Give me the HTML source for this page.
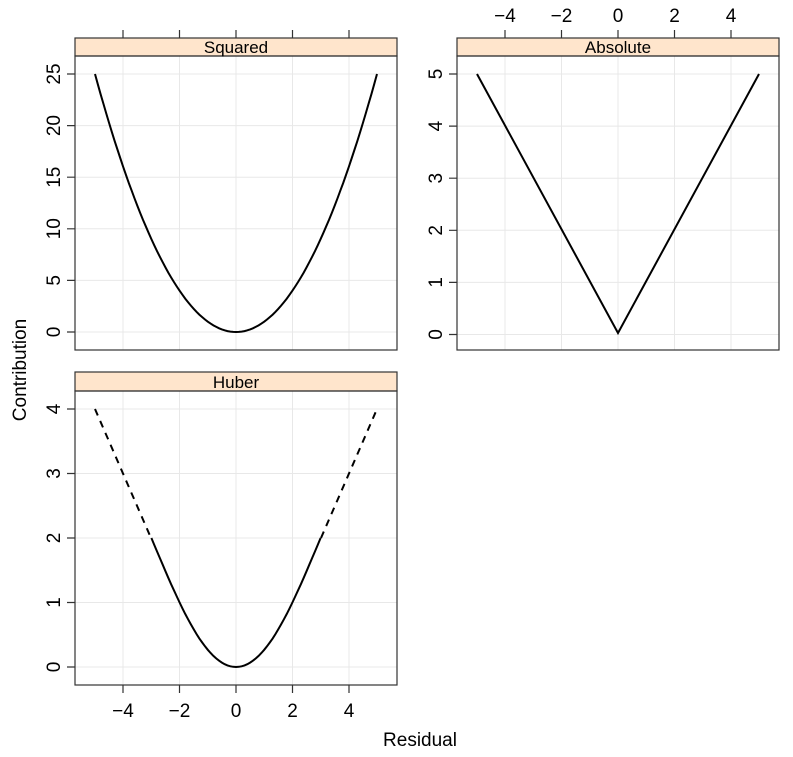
<!DOCTYPE html>
<html><head><style>html,body{margin:0;padding:0;background:#fff}</style></head>
<body>
<svg width="793" height="752" xmlns="http://www.w3.org/2000/svg" font-family="Liberation Sans, Arial, sans-serif" font-size="19" fill="#000">
<g stroke="#e8e8e8" stroke-width="1">
<line x1="123" y1="56" x2="123" y2="350"/><line x1="179.5" y1="56" x2="179.5" y2="350"/><line x1="236" y1="56" x2="236" y2="350"/><line x1="292.5" y1="56" x2="292.5" y2="350"/><line x1="349" y1="56" x2="349" y2="350"/>
<line x1="75" y1="74" x2="397" y2="74"/><line x1="75" y1="125.6" x2="397" y2="125.6"/><line x1="75" y1="177.2" x2="397" y2="177.2"/><line x1="75" y1="228.8" x2="397" y2="228.8"/><line x1="75" y1="280.4" x2="397" y2="280.4"/><line x1="75" y1="332" x2="397" y2="332"/>
<line x1="505" y1="56" x2="505" y2="350"/><line x1="561.5" y1="56" x2="561.5" y2="350"/><line x1="618" y1="56" x2="618" y2="350"/><line x1="674.5" y1="56" x2="674.5" y2="350"/><line x1="731" y1="56" x2="731" y2="350"/>
<line x1="457" y1="74" x2="779" y2="74"/><line x1="457" y1="126.1" x2="779" y2="126.1"/><line x1="457" y1="178.2" x2="779" y2="178.2"/><line x1="457" y1="230.3" x2="779" y2="230.3"/><line x1="457" y1="282.4" x2="779" y2="282.4"/><line x1="457" y1="334.5" x2="779" y2="334.5"/>
<line x1="123" y1="391" x2="123" y2="685"/><line x1="179.5" y1="391" x2="179.5" y2="685"/><line x1="236" y1="391" x2="236" y2="685"/><line x1="292.5" y1="391" x2="292.5" y2="685"/><line x1="349" y1="391" x2="349" y2="685"/>
<line x1="75" y1="409" x2="397" y2="409"/><line x1="75" y1="473.5" x2="397" y2="473.5"/><line x1="75" y1="538" x2="397" y2="538"/><line x1="75" y1="602.5" x2="397" y2="602.5"/><line x1="75" y1="667" x2="397" y2="667"/>
</g>
<g stroke="#333" stroke-width="1.2" fill="#ffe5cc">
<rect x="75" y="38" width="322" height="18"/><rect x="457" y="38" width="322" height="18"/><rect x="75" y="372" width="322" height="19"/>
</g>
<g fill="none" stroke="#333" stroke-width="1.2">
<rect x="75" y="56" width="322" height="294"/><rect x="457" y="56" width="322" height="294"/><rect x="75" y="391" width="322" height="294"/>
<path d="M123 38v-8M179.5 38v-8M236 38v-8M292.5 38v-8M349 38v-8"/>
<path d="M505 38v-8M561.5 38v-8M618 38v-8M674.5 38v-8M731 38v-8"/>
<path d="M123 685v8M179.5 685v8M236 685v8M292.5 685v8M349 685v8"/>
<path d="M75 74h-8M75 125.6h-8M75 177.2h-8M75 228.8h-8M75 280.4h-8M75 332h-8"/>
<path d="M457 74h-8M457 126.1h-8M457 178.2h-8M457 230.3h-8M457 282.4h-8M457 334.5h-8"/>
<path d="M75 409h-8M75 473.5h-8M75 538h-8M75 602.5h-8M75 667h-8"/>
</g>
<g text-anchor="middle" font-size="17">
<text x="236" y="53">Squared</text><text x="618" y="53">Absolute</text><text x="236" y="388">Huber</text>
</g>
<g text-anchor="middle">
<text x="505" y="22">−4</text><text x="561.5" y="22">−2</text><text x="618" y="22">0</text><text x="674.5" y="22">2</text><text x="731" y="22">4</text>
<text x="123" y="717">−4</text><text x="179.5" y="717">−2</text><text x="236" y="717">0</text><text x="292.5" y="717">2</text><text x="349" y="717">4</text>
<text x="420" y="746">Residual</text>
</g>
<g text-anchor="middle">
<text transform="translate(60,74) rotate(-90)">25</text><text transform="translate(60,125.6) rotate(-90)">20</text><text transform="translate(60,177.2) rotate(-90)">15</text><text transform="translate(60,228.8) rotate(-90)">10</text><text transform="translate(60,280.4) rotate(-90)">5</text><text transform="translate(60,332) rotate(-90)">0</text>
<text transform="translate(442,74) rotate(-90)">5</text><text transform="translate(442,126.1) rotate(-90)">4</text><text transform="translate(442,178.2) rotate(-90)">3</text><text transform="translate(442,230.3) rotate(-90)">2</text><text transform="translate(442,282.4) rotate(-90)">1</text><text transform="translate(442,334.5) rotate(-90)">0</text>
<text transform="translate(60,409) rotate(-90)">4</text><text transform="translate(60,473.5) rotate(-90)">3</text><text transform="translate(60,538) rotate(-90)">2</text><text transform="translate(60,602.5) rotate(-90)">1</text><text transform="translate(60,667) rotate(-90)">0</text>
<text transform="translate(26,370) rotate(-90)">Contribution</text>
</g>
<g fill="none" stroke="#000" stroke-width="2">
<path id="sq" d=""/>
<path d="M477 74L618 333L759 74"/>
<path id="hu" d=""/>
<path d="M95 409L151 538M321 538L377 409" stroke-dasharray="7,6"/>
</g>
<script>
var s="",h="";
for(var i=0;i<=100;i++){var x=-5+i*0.1;var px=236+x*28.2;s+=(i?"L":"M")+px.toFixed(1)+" "+(332-x*x*10.32).toFixed(1);}
document.getElementById("sq").setAttribute("d",s);
for(var i=0;i<=60;i++){var x=-3+i*0.1;var y=0.2722*x*x-0.00556*x*x*x*x;h+=(i?"L":"M")+(236+x*28.2).toFixed(1)+" "+(667-y*64.5).toFixed(1);}
document.getElementById("hu").setAttribute("d",h);
</script>
</svg>
</body></html>
